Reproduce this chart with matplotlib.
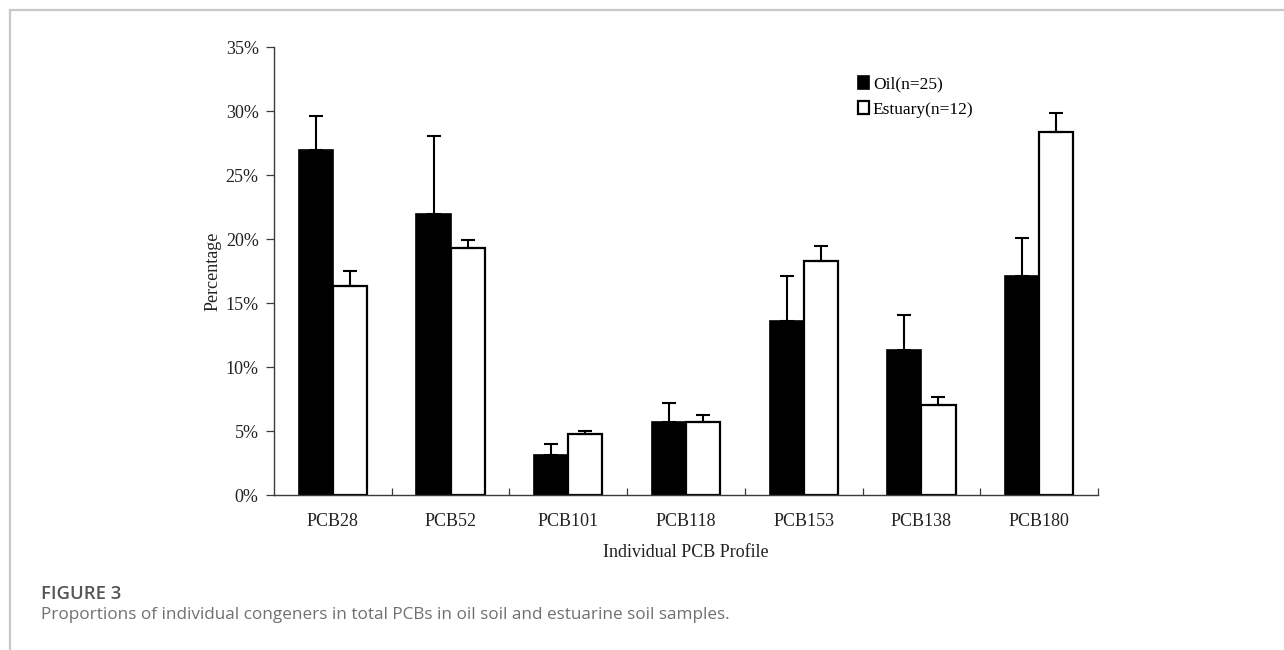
import matplotlib
matplotlib.use("Agg")
import matplotlib.pyplot as plt
import numpy as np
from matplotlib.ticker import PercentFormatter
from matplotlib.lines import Line2D

# data (percent)
congeners = ["PCB28", "PCB52", "PCB101", "PCB118", "PCB153", "PCB138", "PCB180"]
oil_mean = [27.0, 22.0, 3.1, 5.7, 13.6, 11.3, 17.1]
oil_err = [2.6, 6.1, 0.9, 1.5, 3.5, 2.8, 3.0]
estuary_mean = [16.3, 19.3, 4.75, 5.7, 18.3, 7.0, 28.4]
estuary_err = [1.2, 0.6, 0.25, 0.55, 1.2, 0.65, 1.5]

serif = "Liberation Serif"
axcol = "#3c3c3c"
txtcol = "#222222"
fs = 13

fig = plt.figure(figsize=(12.84, 6.5), dpi=100)

# frame lines around the figure panel
fig.add_artist(Line2D([9.5/1284, 1], [1-9.5/650, 1-9.5/650], color="#c8c8c8", lw=1.6))
fig.add_artist(Line2D([9.5/1284, 9.5/1284], [0, 1-9.5/650], color="#c8c8c8", lw=1.6))

ax = fig.add_axes([274/1284, 1-495/650, (1098-274)/1284, (495-47.3)/650])

x = np.arange(len(congeners))
w = 0.29
ax.bar(x - w/2, oil_mean, w, color="black", edgecolor="black", linewidth=1.2,
       yerr=[np.zeros(len(oil_err)), oil_err], error_kw=dict(ecolor="black", elinewidth=1.5, capsize=5, capthick=1.5),
       label="Oil(n=25)", zorder=2)
ax.bar(x + w/2, estuary_mean, w, color="white", edgecolor="black", linewidth=1.6,
       yerr=[np.zeros(len(estuary_err)), estuary_err], error_kw=dict(ecolor="black", elinewidth=1.5, capsize=5, capthick=1.5),
       label="Estuary(n=12)", zorder=2)

ax.set_xlim(-0.5, len(congeners) - 0.5)
ax.set_ylim(0, 35)
ax.set_yticks(np.arange(0, 36, 5))
ax.yaxis.set_major_formatter(PercentFormatter(decimals=0))
ax.set_xticks(x)
ax.set_xticklabels(congeners)
ax.tick_params(axis="x", length=0, pad=13, labelsize=fs, labelcolor=txtcol)
ax.set_xticks(np.arange(0.5, len(congeners), 1), minor=True)
ax.tick_params(axis="x", which="minor", direction="in", length=5, width=0.9, color=axcol)
ax.tick_params(axis="y", direction="out", length=6, width=0.9, color=axcol, labelsize=fs, labelcolor=txtcol, pad=5)
for lab in ax.get_xticklabels() + ax.get_yticklabels():
    lab.set_fontfamily(serif)

for s in ["top", "right"]:
    ax.spines[s].set_visible(False)
for s in ["left", "bottom"]:
    ax.spines[s].set_color(axcol)
    ax.spines[s].set_linewidth(1.0)

ax.set_ylabel("Percentage", fontfamily=serif, fontsize=fs, color=txtcol, labelpad=3)
ax.set_xlabel("Individual PCB Profile", fontfamily=serif, fontsize=fs, color=txtcol, labelpad=10)

leg = ax.legend(loc="upper left", bbox_to_anchor=(0.69, 0.97), frameon=False,
                prop={"family": serif, "size": 12.5}, handlelength=0.6, handleheight=0.75,
                handletextpad=0.25, labelspacing=0.5)

fig.text(41/1284, 1-599/650, "FIGURE 3", fontfamily="Open Sans", fontsize=13.3,
         fontweight="semibold", color="#555555", va="baseline")
fig.text(41/1284, 1-619/650, "Proportions of individual congeners in total PCBs in oil soil and estuarine soil samples.",
         fontfamily="Open Sans", fontsize=12.3, color="#707070", va="baseline")

fig.savefig("out.png", dpi=100)
